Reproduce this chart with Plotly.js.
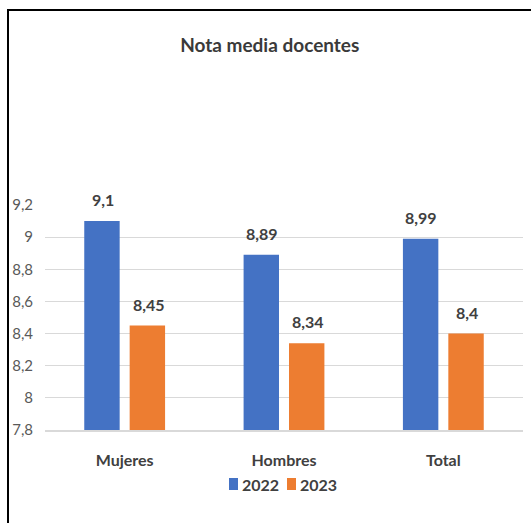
<!DOCTYPE html>
<html><head><meta charset="utf-8">
<script src="https://cdn.plot.ly/plotly-3.0.1.min.js"></script>
<style>
html,body{margin:0;padding:0;background:#fff;}
#wrap{position:relative;width:531px;height:523px;}
#chart{width:531px;height:523px;}
#frame{position:absolute;left:7px;top:9px;right:-5px;bottom:-5px;border-left:2px solid #000;border-top:2px solid #000;pointer-events:none;}
</style></head>
<body>
<div id="wrap"><div id="chart"></div><div id="frame"></div></div>
<script>
const categories = ['Mujeres', 'Hombres', 'Total'];
const seriesNames = ['2022', '2023'];
const seriesColors = ['#4472C4', '#ED7D31'];
const values2022 = [9.1, 8.89, 8.99];
const values2023 = [8.45, 8.34, 8.4];
const yTicks = [7.8, 8, 8.2, 8.4, 8.6, 8.8, 9, 9.2];

const FONT = 'Lato, "Open Sans", sans-serif';
const fmt = v => String(v).replace('.', ',');

const W = 531, H = 523;
const M = {l:45, r:8, t:205, b:93};
const PW = W - M.l - M.r, PH = H - M.t - M.b;
const px = x => (x - M.l) / PW;           // page pixel -> paper x
const py = y => (H - M.b - y) / PH;        // page pixel -> paper y

const traces = [
  {type:'bar', name:seriesNames[0], x:categories, y:values2022, marker:{color:seriesColors[0]}, hoverinfo:'none'},
  {type:'bar', name:seriesNames[1], x:categories, y:values2023, marker:{color:seriesColors[1]}, hoverinfo:'none'}
];

const annotations = [];
[[values2022, -22], [values2023, 24]].forEach(([vals, xs]) => {
  vals.forEach((v, i) => {
    annotations.push({x:categories[i], y:v, xref:'x', yref:'y', text:'<b>'+fmt(v)+'</b>',
      showarrow:false, xshift:xs, yshift:10, yanchor:'bottom',
      font:{family:FONT, size:16, color:'#404040'}});
  });
});

// legend (drawn manually to match the compact Excel-style legend)
const shapes = [];
const legendStarts = [229, 287];
seriesNames.forEach((name, i) => {
  const x0 = legendStarts[i];
  shapes.push({type:'rect', xref:'paper', yref:'paper', x0:px(x0), x1:px(x0+9), y0:py(490), y1:py(478),
    fillcolor:seriesColors[i], line:{width:0}});
  annotations.push({xref:'paper', yref:'paper', x:px(x0+11), y:py(484), xanchor:'left', yanchor:'middle',
    text:'<b>'+name+'</b>', showarrow:false, font:{family:FONT, size:16, color:'#404040'}});
});

const layout = {
  width:W, height:H,
  margin:M,
  paper_bgcolor:'#fff', plot_bgcolor:'#fff',
  title:{text:'<b>Nota media docentes</b>', x:0.508, xanchor:'center', y:0.914, yanchor:'middle',
    font:{family:FONT, size:19, color:'#3a3a3a'}},
  barmode:'group', bargap:0.43, bargroupgap:0.22,
  showlegend:false,
  xaxis:{type:'category', showline:true, linecolor:'#d9d9d9', linewidth:1.5, ticks:'',
    tickfont:{family:FONT, size:16, color:'#404040', weight:'bold'}, ticklabelstandoff:15, fixedrange:true},
  yaxis:{range:[7.8, 9.2], tickvals:yTicks, ticktext:yTicks.map(fmt), showgrid:true, gridcolor:'#d9d9d9',
    gridwidth:1, zeroline:false, showline:false, ticks:'',
    tickfont:{family:FONT, size:15, color:'#595959'}, ticklabelstandoff:11, fixedrange:true},
  annotations:annotations,
  shapes:shapes
};

Plotly.newPlot('chart', traces, layout, {displayModeBar:false, staticPlot:true});
</script>
</body></html>
